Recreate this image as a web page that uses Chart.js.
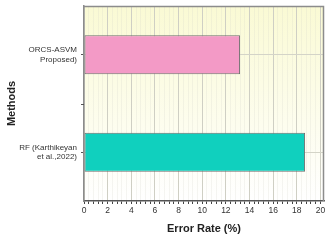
<!DOCTYPE html>
<html><head><meta charset="utf-8">
<script src="https://cdn.jsdelivr.net/npm/chart.js@4/dist/chart.umd.min.js"></script>
<style>html,body{margin:0;padding:0;background:#fff}#wrap{width:336px;height:244px}</style>
</head><body><div id="wrap"><canvas id="c" width="336" height="244"></canvas></div>
<script>
const categories = [["ORCS-ASVM","Proposed)"],["RF (Karthikeyan","et al.,2022)"]];
const errorRates = [13.2, 18.7];
const barColors = ["#f39ac6", "#10d0be"];
const xMajorTicks = [0,2,4,6,8,10,12,14,16,18,20];
const xMax = 20.3;
const minorStep = 0.4;

const bgPlugin = {
  id:'bg',
  beforeDraw(chart){
    const {ctx, chartArea:a} = chart;
    const g = ctx.createLinearGradient(0,a.top,0,a.bottom);
    g.addColorStop(0,'#fafad4');
    g.addColorStop(1,'#ffffff');
    ctx.save(); ctx.fillStyle = g; ctx.fillRect(a.left,a.top,a.right-a.left,a.bottom-a.top); ctx.restore();
  },
  afterDraw(chart){
    const {ctx, chartArea:a} = chart;
    ctx.save();
    ctx.strokeStyle = '#8c8c8c'; ctx.lineWidth = 1.5;
    ctx.beginPath();
    ctx.moveTo(a.left, a.top+0.5); ctx.lineTo(a.right-0.5, a.top+0.5); ctx.lineTo(a.right-0.5, a.bottom);
    ctx.stroke();
    const y = chart.scales.y;
    const py = Math.round(y.getPixelForValue(0.5))+0.5;
    ctx.strokeStyle = '#555'; ctx.lineWidth = 1;
    ctx.beginPath(); ctx.moveTo(a.left-3, py); ctx.lineTo(a.left, py); ctx.stroke();
    ctx.restore();
  }
};

new Chart(document.getElementById('c'), {
  type:'bar',
  data:{labels:categories, datasets:[{data:errorRates, backgroundColor:barColors, borderColor:'#6e6e6e', borderWidth:1, borderSkipped:false, barPercentage:0.4, categoryPercentage:1}]},
  options:{
    indexAxis:'y', responsive:false, animation:false, devicePixelRatio:1,
    layout:{padding:{top:6,right:12,left:0,bottom:0}},
    plugins:{legend:{display:false}, tooltip:{enabled:false}},
    scales:{
      x:{
        min:0, max:xMax,
        afterBuildTicks(s){ const t=[]; for(let i=0;i*minorStep<=20.0001;i++){ t.push({value:+(i*minorStep).toFixed(2)}); } s.ticks=t; },
        afterFit(s){ s.height = 43; },
        ticks:{ autoSkip:false, maxRotation:0, color:'#333', font:{family:'Liberation Sans', size:8.5}, padding:2,
          callback(v){ const r=Math.round(v*10)/10; return xMajorTicks.includes(r)? String(r) : ''; } },
        grid:{ color(c){ const v=Math.round(c.tick.value*10)/10; return xMajorTicks.includes(v)? '#cfcfc4' : 'rgba(210,210,200,0.22)'; },
               tickColor:'#444', tickLength:3, lineWidth:1 },
        border:{display:true, color:'#555', width:1.5},
        title:{display:true, text:'Error Rate (%)', color:'#222', font:{family:'Liberation Sans', size:11, weight:'bold'}, padding:{top:4,bottom:8}}
      },
      y:{
        offset:true,
        afterFit(s){ s.width = 84; s.paddingTop = 0; s.paddingBottom = 0; },
        ticks:{ color:'#333', font:{family:'Liberation Sans', size:8}, padding:4, crossAlign:'near' },
        grid:{ offset:false, color:'#d4d4c8', tickColor:'#555', tickLength:3 },
        border:{display:true, color:'#8c8c8c', width:1.5},
        title:{display:true, text:'Methods', color:'#222', font:{family:'Liberation Sans', size:11, weight:'bold'}, padding:{top:5,bottom:0}}
      }
    }
  },
  plugins:[bgPlugin]
});
</script></body></html>
